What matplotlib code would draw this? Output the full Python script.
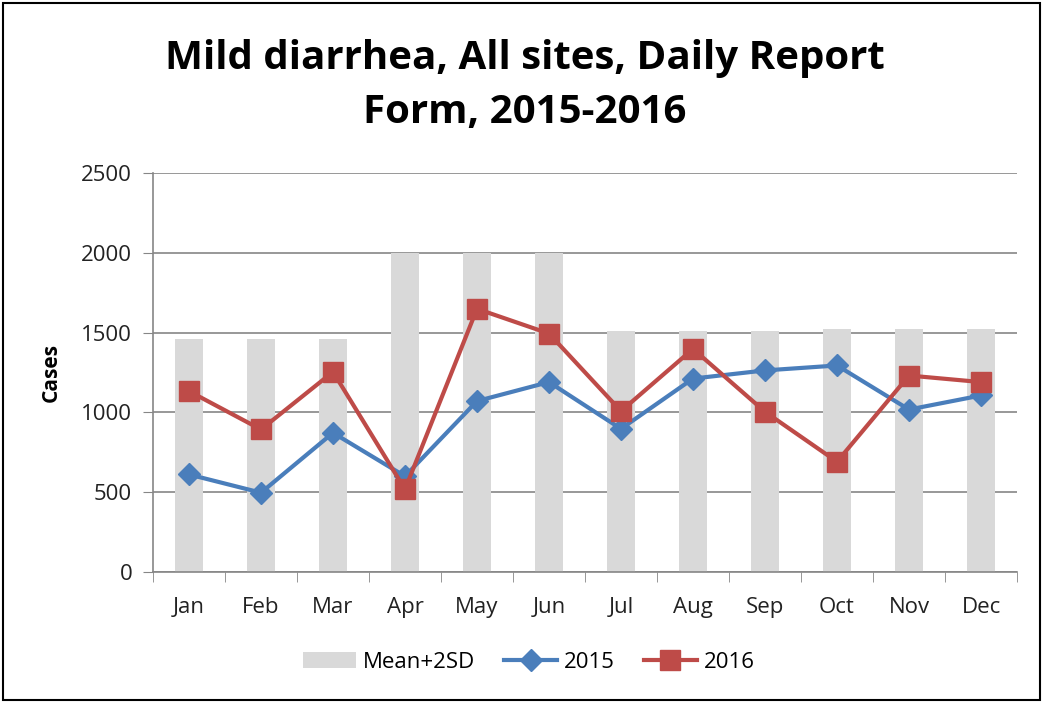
import numpy as np
import matplotlib.pyplot as plt
from matplotlib.patches import Rectangle

months = ['Jan', 'Feb', 'Mar', 'Apr', 'May', 'Jun', 'Jul', 'Aug', 'Sep', 'Oct', 'Nov', 'Dec']
mean_2sd = [1457, 1457, 1457, 2000, 2000, 2000, 1507, 1507, 1507, 1522, 1522, 1522]
cases_2015 = [611, 497, 872, 600, 1071, 1190, 897, 1212, 1263, 1294, 1018, 1106]
cases_2016 = [1133, 893, 1254, 518, 1649, 1494, 1008, 1398, 1004, 691, 1231, 1190]

plt.rcParams['font.family'] = ['Open Sans', 'DejaVu Sans']

fig = plt.figure(figsize=(10.43, 7.03), dpi=100)
ax = fig.add_axes([153 / 1043, 1 - 572 / 703, 864 / 1043, 399 / 703])

x = np.arange(len(months))
grid_col = '#868686'

bars = ax.bar(x, mean_2sd, width=0.39, color='#D9D9D9', label='Mean+2SD', zorder=2)
l15, = ax.plot(x, cases_2015, color='#4A7EBB', lw=3, marker='D', ms=11, label='2015', zorder=3)
l16, = ax.plot(x, cases_2016, color='#BE4B48', lw=3, marker='s', ms=14, label='2016', zorder=4)

ax.set_xlim(-0.5, 11.5)
ax.set_ylim(0, 2500)
ax.set_yticks(range(0, 2501, 500))
ax.yaxis.grid(True, color=grid_col, lw=1.2, zorder=1)
ax.set_axisbelow(True)

ax.set_xticks(x)
ax.set_xticklabels(months)
ax.set_xticks(np.arange(-0.5, 12, 1), minor=True)
ax.tick_params(axis='x', which='major', length=0, pad=18, labelsize=16, colors='#222222')
ax.tick_params(axis='x', which='minor', length=7, color=grid_col, direction='out')
ax.tick_params(axis='y', length=7, color=grid_col, labelsize=16, pad=8, labelcolor='#222222')

for side in ['top', 'right']:
    ax.spines[side].set_visible(False)
for side in ['left', 'bottom']:
    ax.spines[side].set_color(grid_col)
    ax.spines[side].set_linewidth(1.2)

ax.set_ylabel('Cases', fontsize=15, fontweight='bold', labelpad=14)

fig.text(0.503, 1 - 86 / 703, 'Mild diarrhea, All sites, Daily Report\nForm, 2015-2016',
         ha='center', va='center', fontsize=29, fontweight='bold', linespacing=1.5)

ax.legend([bars, l15, l16], ['Mean+2SD', '2015', '2016'], loc='center',
          bbox_to_anchor=(0.435, -0.226), ncol=3, frameon=False,
          fontsize=16, handlelength=2.4, columnspacing=1.3, handletextpad=0.3)

fig.patches.append(Rectangle((3 / 1043, 3 / 703), 1037 / 1043, 697 / 703, fill=False,
                             edgecolor='black', lw=1.5, transform=fig.transFigure))

fig.savefig('out.png', dpi=100)
